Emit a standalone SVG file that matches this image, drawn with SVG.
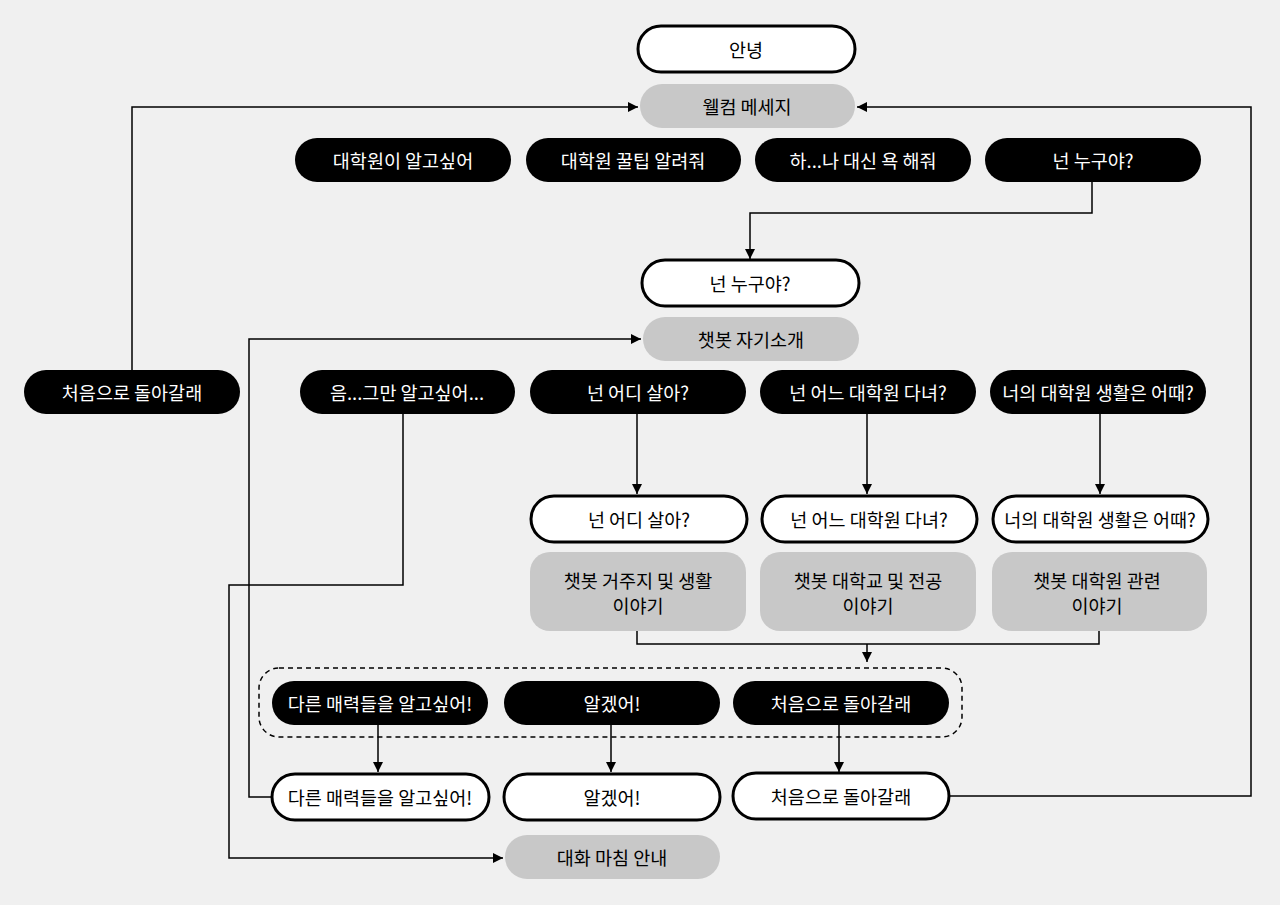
<svg xmlns="http://www.w3.org/2000/svg" width="1280" height="905" viewBox="0 0 1280 905">
<defs>
<marker id="ah" viewBox="0 0 10 10" refX="10" refY="5" markerWidth="10" markerHeight="10" markerUnits="userSpaceOnUse" orient="auto">
<path d="M0,0 L10,5 L0,10 z" fill="#000"/>
</marker>
<style>
text{font-family:"Noto Sans CJK KR","Noto Sans",sans-serif;font-size:18.5px;text-anchor:middle;dominant-baseline:central}
.blk rect{fill:#000}
.blk text{fill:#fff}
.wht rect{fill:#fff;stroke:#000;stroke-width:3}
.wht text{fill:#000}
.gry rect{fill:#c8c8c8}
.gry text{fill:#000}
.conn path{fill:none;stroke:#000;stroke-width:1.5}
.arr{marker-end:url(#ah)}
</style>
</defs>
<rect width="1280" height="905" fill="#f0f0f0"/>

<g class="conn">
<path class="arr" d="M1092,182 V213 H750 V259"/>
<path class="arr" d="M132,370 V107 H638"/>
<path class="arr" d="M403,414 V585 H229 V858 H503"/>
<path class="arr" d="M637,414 V494"/>
<path class="arr" d="M867,414 V494"/>
<path class="arr" d="M1100,414 V494"/>
<path d="M637,631 V644 H1099 V631"/>
<path class="arr" d="M867,644 V662"/>
<path class="arr" d="M378,725 V772"/>
<path class="arr" d="M611,725 V772"/>
<path class="arr" d="M839,725 V772"/>
<path class="arr" d="M272,797 H249 V339 H641"/>
<path class="arr" d="M949,796 H1251 V107 H857"/>
</g>
<rect id="group" x="259" y="668" width="703" height="69" rx="20" fill="none" stroke="#000" stroke-width="1.5" stroke-dasharray="5,4"/>

<g id="n1" class="wht"><rect x="638" y="26" width="217" height="46" rx="23"/><text x="746" y="49">안녕</text></g>
<g id="n2" class="gry"><rect x="640" y="84" width="215" height="44" rx="22"/><text x="747" y="106">웰컴 메세지</text></g>

<g id="n3" class="blk"><rect x="295" y="138" width="216" height="44" rx="22"/><text x="403" y="160">대학원이 알고싶어</text></g>
<g id="n4" class="blk"><rect x="526" y="138" width="215" height="44" rx="22"/><text x="633" y="160">대학원 꿀팁 알려줘</text></g>
<g id="n5" class="blk"><rect x="755" y="138" width="216" height="44" rx="22"/><text x="863" y="160">하...나 대신 욕 해줘</text></g>
<g id="n6" class="blk"><rect x="985" y="138" width="216" height="44" rx="22"/><text x="1093" y="160">넌 누구야?</text></g>

<g id="n7" class="wht"><rect x="642" y="260" width="217" height="46" rx="23"/><text x="750" y="283">넌 누구야?</text></g>
<g id="n8" class="gry"><rect x="643" y="317" width="216" height="44" rx="22"/><text x="751" y="339">챗봇 자기소개</text></g>

<g id="n9" class="blk"><rect x="24" y="370" width="216" height="44" rx="22"/><text x="132" y="392">처음으로 돌아갈래</text></g>
<g id="n10" class="blk"><rect x="300" y="370" width="215" height="44" rx="22"/><text x="407" y="392">음...그만 알고싶어...</text></g>
<g id="n11" class="blk"><rect x="530" y="370" width="216" height="44" rx="22"/><text x="638" y="392">넌 어디 살아?</text></g>
<g id="n12" class="blk"><rect x="760" y="370" width="216" height="44" rx="22"/><text x="868" y="392">넌 어느 대학원 다녀?</text></g>
<g id="n13" class="blk"><rect x="990" y="370" width="216" height="44" rx="22"/><text x="1098" y="392">너의 대학원 생활은 어때?</text></g>

<g id="n14" class="wht"><rect x="531" y="496" width="216" height="46" rx="23"/><text x="639" y="519">넌 어디 살아?</text></g>
<g id="n15" class="wht"><rect x="762" y="496" width="215" height="46" rx="23"/><text x="869" y="519">넌 어느 대학원 다녀?</text></g>
<g id="n16" class="wht"><rect x="993" y="496" width="215" height="46" rx="23"/><text x="1100" y="519">너의 대학원 생활은 어때?</text></g>

<g id="n17" class="gry"><rect x="530" y="552" width="216" height="79" rx="20"/><text x="638" y="580">챗봇 거주지 및 생활</text><text x="638" y="605">이야기</text></g>
<g id="n18" class="gry"><rect x="760" y="552" width="216" height="79" rx="20"/><text x="868" y="580">챗봇 대학교 및 전공</text><text x="868" y="605">이야기</text></g>
<g id="n19" class="gry"><rect x="992" y="552" width="215" height="79" rx="20"/><text x="1097" y="580">챗봇 대학원 관련</text><text x="1097" y="605">이야기</text></g>

<g id="n20" class="blk"><rect x="272" y="681" width="216" height="44" rx="22"/><text x="380" y="703">다른 매력들을 알고싶어!</text></g>
<g id="n21" class="blk"><rect x="504" y="681" width="216" height="44" rx="22"/><text x="612" y="703">알겠어!</text></g>
<g id="n22" class="blk"><rect x="733" y="681" width="216" height="44" rx="22"/><text x="841" y="703">처음으로 돌아갈래</text></g>

<g id="n23" class="wht"><rect x="272" y="774" width="217" height="46" rx="23"/><text x="380" y="797">다른 매력들을 알고싶어!</text></g>
<g id="n24" class="wht"><rect x="504" y="774" width="216" height="46" rx="23"/><text x="612" y="797">알겠어!</text></g>
<g id="n25" class="wht"><rect x="733" y="773" width="216" height="46" rx="23"/><text x="841" y="796">처음으로 돌아갈래</text></g>

<g id="n26" class="gry"><rect x="505" y="835" width="215" height="44" rx="22"/><text x="612" y="857">대화 마침 안내</text></g>
</svg>
